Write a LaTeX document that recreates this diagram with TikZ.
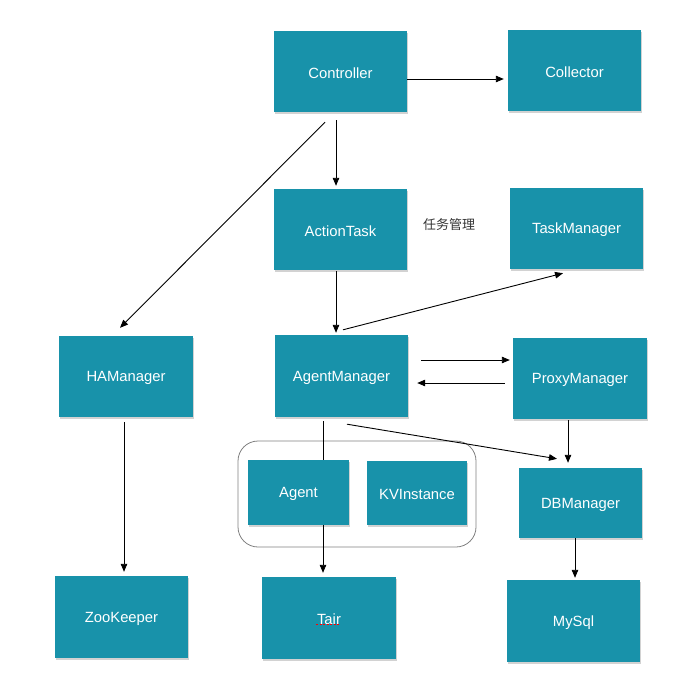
\documentclass[tikz,border=0pt]{standalone}
\usepackage{fontspec}
\setmainfont{Liberation Sans}
\newfontfamily\cjkfont{Noto Sans CJK SC}
\usetikzlibrary{arrows.meta,shadows}
\definecolor{boxteal}{RGB}{24,146,170}
\definecolor{labelgray}{RGB}{51,51,51}
% box labels sit a little below the geometric centre
\newcommand\boxlabel[1]{\raisebox{-1.5pt}[\height][\depth]{#1}}
\begin{document}
\begin{tikzpicture}[x=1pt,y=-1pt,
  box/.style={fill=boxteal, draw=none, text=white,
    font=\fontsize{14.8}{17}\selectfont, inner sep=0pt,
    drop shadow={shadow xshift=0.5pt, shadow yshift=-2pt, opacity=0.25, fill=black!70}},
  arr/.style={-{Triangle[length=8pt,width=6.5pt]}, line width=0.9pt},
  plain/.style={line width=0.9pt},
  group/.style={draw=black!50, line width=0.8pt, rounded corners=20pt}]
\useasboundingbox (0,0) rectangle (681,682);

% grouping frame around the agent side
\node[group, minimum width=238pt, minimum height=106pt] (grp) at (357,494) {};

% components
\node[box, minimum width=133pt, minimum height=81pt] (ctrl) at (340.5,71.5) {\boxlabel{Controller}};
\node[box, minimum width=133pt, minimum height=81pt] (coll) at (574.5,70.5) {\boxlabel{Collector}};
\node[box, minimum width=133pt, minimum height=81pt] (act) at (340.5,229.5) {\boxlabel{ActionTask}};
\node[box, minimum width=133pt, minimum height=81pt] (task) at (576.5,228.5) {\boxlabel{TaskManager}};
\node[box, minimum width=134pt, minimum height=81pt] (ha) at (126,376.5) {\boxlabel{HAManager}};
\node[box, minimum width=133pt, minimum height=82pt] (agm) at (341.5,376) {\boxlabel{AgentManager}};
\node[box, minimum width=134pt, minimum height=81pt] (proxy) at (580,378.5) {\boxlabel{ProxyManager}};
\node[box, minimum width=101pt, minimum height=65pt] (agent) at (298.5,492.5) {\boxlabel{Agent}};
\node[box, minimum width=100pt, minimum height=64pt] (kv) at (417,493) {\boxlabel{KVInstance}};
\node[box, minimum width=134pt, minimum height=82pt] (tair) at (329,618) {\boxlabel{Tair}};
\node[box, minimum width=123pt, minimum height=70pt] (db) at (580.5,503) {\boxlabel{DBManager}};
\node[box, minimum width=133pt, minimum height=82pt] (mysql) at (573.5,621) {\boxlabel{MySql}};
\node[box, minimum width=133pt, minimum height=82pt] (zk) at (121.5,617) {\boxlabel{ZooKeeper}};

% spell-check underline under "Tair"
\draw[red, line width=1.2pt, dash pattern=on 2pt off 1.5pt]
  ([xshift=-13pt,yshift=-6.5pt]tair.center) -- ([xshift=10pt,yshift=-6.5pt]tair.center);

% caption
\node[font=\cjkfont\fontsize{13}{15}\selectfont, text=labelgray] (cap) at (449,224.5) {任务管理};

% connectors
\draw[arr] ([yshift=-7.5pt]ctrl.east) -- ([xshift=-4pt,yshift=-8.5pt]coll.west);
\draw[arr] ([xshift=-4.5pt,yshift=-8pt]ctrl.south) -- ([xshift=-4.5pt,yshift=3pt]act.north);
\draw[arr] ([xshift=-15.5pt,yshift=-10pt]ctrl.south) -- ([xshift=-6pt,yshift=8pt]ha.north);
\draw[arr] ([xshift=-4.5pt,yshift=-1pt]act.south) -- ([xshift=-5.5pt,yshift=2pt]agm.north);
\draw[arr] ([xshift=1.5pt,yshift=5pt]agm.north) -- ([xshift=-13.5pt,yshift=-4pt]task.south);
\draw[arr] ([xshift=13pt,yshift=16pt]agm.east) -- ([xshift=-3pt,yshift=18.5pt]proxy.west);
\draw[arr] ([xshift=-8pt,yshift=-4.5pt]proxy.west) -- ([xshift=9pt,yshift=-7pt]agm.east);
\draw[arr] ([xshift=5.5pt,yshift=-7pt]agm.south) -- ([xshift=-23.5pt,yshift=9pt]db.north);
\draw[arr] ([xshift=-12pt,yshift=-1pt]proxy.south) -- ([xshift=-12.5pt,yshift=5pt]db.north);
\draw[plain] ([xshift=-18.5pt,yshift=-4pt]agm.south) -- ([xshift=24.5pt]agent.north);
\draw[arr] ([xshift=24.5pt]agent.south) -- ([xshift=-6pt,yshift=4pt]tair.north);
\draw[arr] ([xshift=-2pt,yshift=-5pt]ha.south) -- ([xshift=2.5pt,yshift=4pt]zk.north);
\draw[arr] ([xshift=-5.5pt]db.south) -- ([xshift=1.5pt,yshift=2pt]mysql.north);
\end{tikzpicture}
\end{document}
